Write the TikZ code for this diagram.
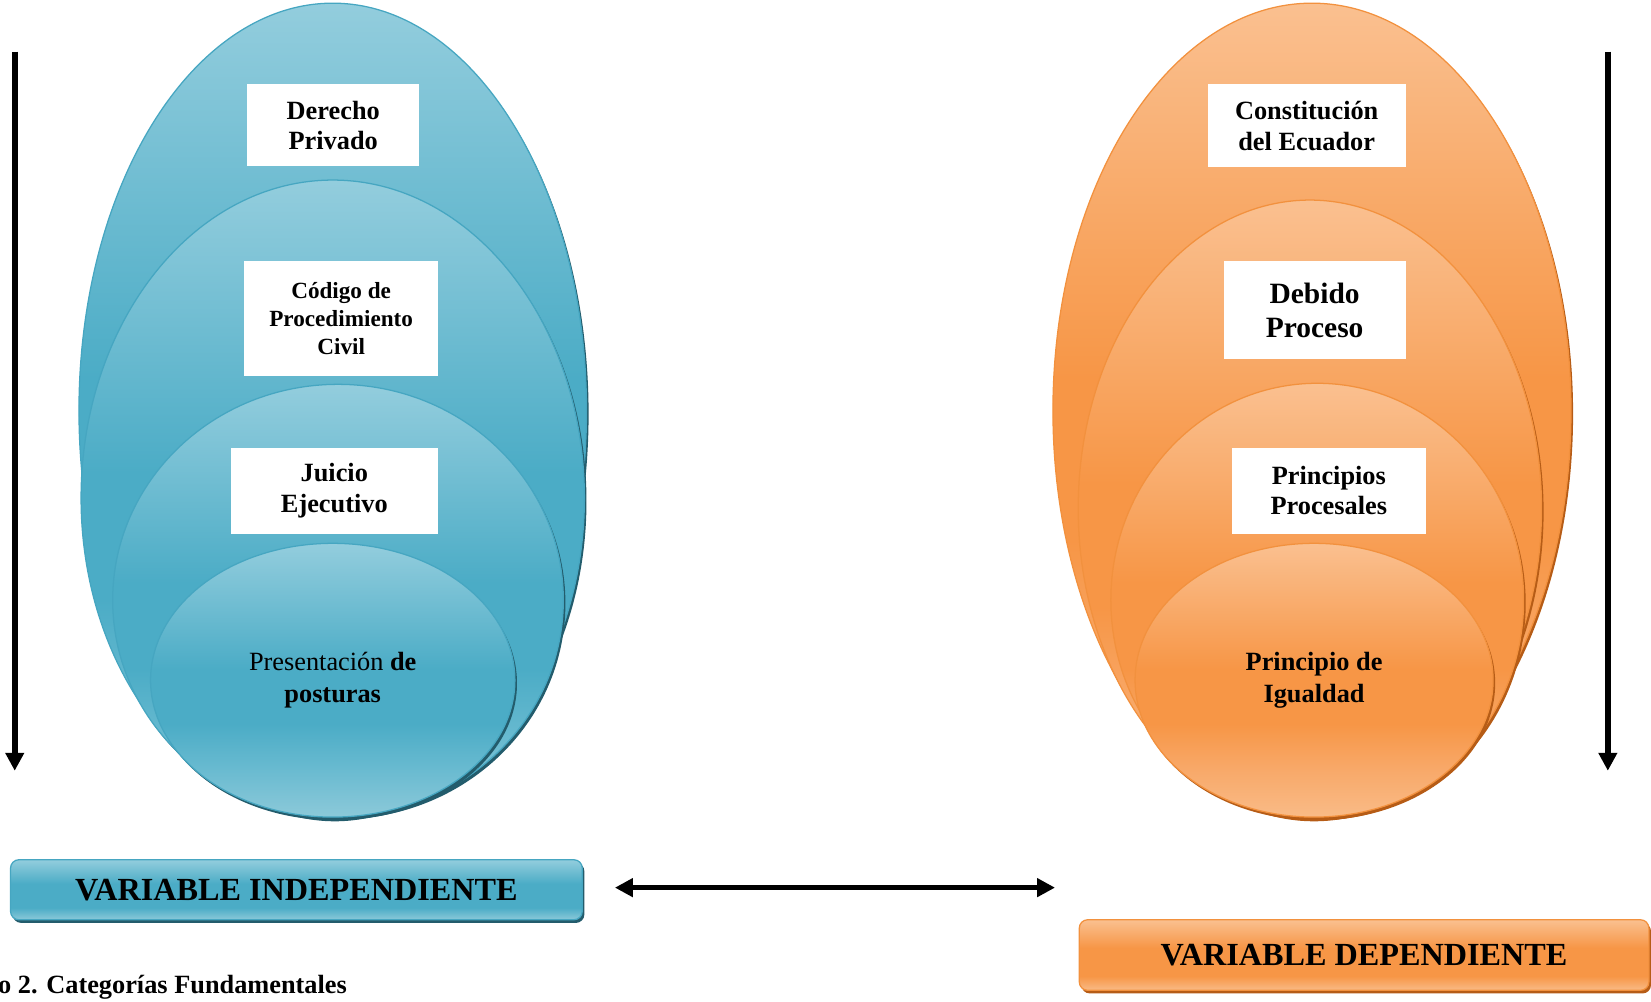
\documentclass[tikz,border=0pt]{standalone}
\usepackage{fontspec}
\setmainfont{Liberation Serif}
\usetikzlibrary{shapes.geometric,arrows.meta,shadows}
\definecolor{bluel}{RGB}{147,205,221}
\definecolor{bluel2}{RGB}{140,201,217}
\definecolor{bluem}{RGB}{104,186,208}
\definecolor{blued}{RGB}{75,172,198}
\definecolor{blueline}{RGB}{70,166,193}
\definecolor{blueshadow}{RGB}{35,92,108}
\definecolor{orl}{RGB}{250,192,144}
\definecolor{orl2}{RGB}{249,187,135}
\definecolor{orm}{RGB}{248,168,104}
\definecolor{ord}{RGB}{247,150,70}
\definecolor{orline}{RGB}{242,145,62}
\definecolor{orshadow}{RGB}{182,92,22}
\pgfdeclareverticalshading{blueell}{100bp}{color(0bp)=(bluel2); color(25bp)=(bluel2); color(34bp)=(bluem); color(42bp)=(blued); color(52bp)=(blued); color(75bp)=(bluel); color(100bp)=(bluel)}
\pgfdeclareverticalshading{orell}{100bp}{color(0bp)=(orl2); color(25bp)=(orl2); color(34bp)=(orm); color(42bp)=(ord); color(52bp)=(ord); color(75bp)=(orl); color(100bp)=(orl)}
\pgfdeclareverticalshading{bluebox}{100bp}{color(0bp)=(bluel2); color(25bp)=(bluel2); color(35bp)=(blued); color(55bp)=(blued); color(75bp)=(bluel); color(100bp)=(bluel)}
\pgfdeclareverticalshading{orbox}{100bp}{color(0bp)=(orl2); color(25bp)=(orl2); color(35bp)=(ord); color(55bp)=(ord); color(75bp)=(orl); color(100bp)=(orl)}
\tikzset{
  ellblue/.style={ellipse, inner sep=0pt, shade, shading=blueell, draw=blueline, line width=1.2pt,
    drop shadow={shadow xshift=2pt, shadow yshift=-3pt, fill=blueshadow, opacity=1}},
  ellor/.style={ellipse, inner sep=0pt, shade, shading=orell, draw=orline, line width=1.2pt,
    drop shadow={shadow xshift=2pt, shadow yshift=-3pt, fill=orshadow, opacity=1}},
  labbox/.style={fill=white, inner sep=0pt, align=center, font=\fontsize{25}{29}\selectfont\bfseries},
  varblue/.style={rounded corners=8pt, inner sep=0pt, shade, shading=bluebox, draw=blueline, line width=1.2pt,
    drop shadow={shadow xshift=2pt, shadow yshift=-3pt, fill=blueshadow, opacity=1},
    font=\fontsize{30.6}{34}\selectfont\bfseries},
  varor/.style={rounded corners=8pt, inner sep=0pt, shade, shading=orbox, draw=orline, line width=1.2pt,
    drop shadow={shadow xshift=2pt, shadow yshift=-3pt, fill=orshadow, opacity=1},
    font=\fontsize{30.6}{34}\selectfont\bfseries},
  arr/.style={line width=5.4pt, -{Triangle[length=17pt,width=17pt]}},
  darr/.style={line width=5pt, {Triangle[length=17pt,width=17pt]}-{Triangle[length=17pt,width=17pt]}}
}
\begin{document}
\begin{tikzpicture}[x=1pt,y=1pt]
\useasboundingbox (0,0) rectangle (1568,-951);
% blue group
\node[ellblue, minimum width=482pt, minimum height=774pt] (b1) at (316,-390) {};
\node[ellblue, minimum width=478pt, minimum height=604pt] (b2) at (316,-473) {};
\node[ellblue, minimum width=428pt, minimum height=410pt] (b3) at (321,-570) {};
\node[ellblue, minimum width=346pt, minimum height=260pt, align=center, font=\fontsize{25}{30}\selectfont] (b4) at (316,-646) {Presentación \textbf{de}\\\textbf{posturas}};
% orange group
\node[ellor, minimum width=492pt, minimum height=774pt] (o1) at (1246,-390) {};
\node[ellor, minimum width=440pt, minimum height=586pt] (o2) at (1244,-483) {};
\node[ellor, minimum width=392pt, minimum height=412pt] (o3) at (1251,-570) {};
\node[ellor, minimum width=340pt, minimum height=260pt, align=center, font=\fontsize{25}{30}\selectfont\bfseries] (o4) at (1248,-646) {Principio de\\Igualdad};
% white label boxes
\node[labbox, minimum width=163pt, minimum height=78pt] (t1) at (316.5,-119) {Derecho\\Privado};
\node[labbox, font=\fontsize{22}{26.5}\selectfont\bfseries, minimum width=184pt, minimum height=109pt] (t2) at (324,-302.5) {Código de\\Procedimiento\\Civil};
\node[labbox, minimum width=197pt, minimum height=82pt] (t3) at (317.5,-466) {Juicio\\Ejecutivo};
\node[labbox, minimum width=188pt, minimum height=79pt] (t4) at (1241,-119.5) {Constitución\\del Ecuador};
\node[labbox, font=\fontsize{28}{32}\selectfont\bfseries, minimum width=173pt, minimum height=93pt] (t5) at (1248.5,-294.5) {Debido\\Proceso};
\node[labbox, minimum width=184pt, minimum height=82pt] (t6) at (1262,-466) {Principios\\Procesales};
% variable boxes
\node[varblue, minimum width=543pt, minimum height=57pt] (vi) at (281.5,-845) {VARIABLE INDEPENDIENTE};
\node[varor, minimum width=541pt, minimum height=67pt] (vd) at (1295.5,-907) {VARIABLE DEPENDIENTE};
% arrows
\coordinate (la) at (14,-49);
\coordinate (lb) at (14,-732);
\coordinate (ra) at (1527,-49);
\coordinate (rb) at (1527,-732);
\coordinate (ha) at (584,-843);
\coordinate (hb) at (1002,-843);
\draw[arr] (la) -- (lb);
\draw[arr] (ra) -- (rb);
\draw[darr] (ha) -- (hb);
% caption
\node[anchor=base west, inner sep=0pt, font=\fontsize{25}{29}\selectfont\bfseries] (cap) at (-2,-944) {o 2. Categorías Fundamentales};
\end{tikzpicture}
\end{document}
